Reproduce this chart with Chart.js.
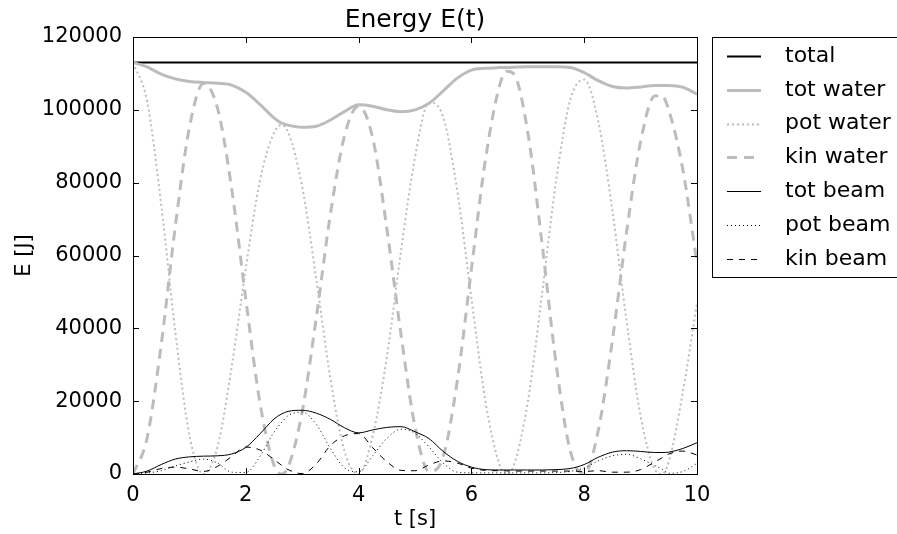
<!DOCTYPE html>
<html>
<head>
<meta charset="utf-8">
<script src="https://cdn.jsdelivr.net/npm/chart.js@4.4.1/dist/chart.umd.min.js"></script>
<style>
html, body { margin: 0; padding: 0; background: #fff; }
canvas { display: block; }
</style>
</head>
<body>
<canvas id="energyChart" width="897" height="534"></canvas>
<script>
// time samples [s]
const times = [0, 0.25, 0.5, 0.75, 1, 1.25, 1.5, 1.75, 2, 2.25, 2.5, 2.625, 2.75, 3, 3.25, 3.5, 3.75, 4, 4.25, 4.5, 4.75, 5, 5.25, 5.5, 5.75, 6, 6.25, 6.5, 6.625, 6.75, 7, 7.25, 7.5, 7.75, 8, 8.25, 8.5, 8.75, 9, 9.25, 9.375, 9.5, 9.75, 10];

// energies [J]
const total = [113000, 113000, 113000, 113000, 113000, 113000, 113000, 113000, 113000, 113000, 113000, 113000, 113000, 113000, 113000, 113000, 113000, 113000, 113000, 113000, 113000, 113000, 113000, 113000, 113000, 113000, 113000, 113000, 113000, 113000, 113000, 113000, 113000, 113000, 113000, 113000, 113000, 113000, 113000, 113000, 113000, 113000, 113000, 113000];
const totWater = [113000, 111800, 109800, 108500, 107800, 107500, 107300, 106800, 104800, 101500, 97800, 96400, 95800, 95200, 95500, 97200, 99500, 101400, 101000, 100000, 99500, 100000, 101800, 105200, 108700, 110900, 111400, 111600, 111650, 111700, 111800, 111800, 111800, 111600, 110200, 108000, 106400, 106000, 106300, 106700, 106700, 106700, 106200, 104300];
const potWater = [113000, 102300, 74000, 39000, 10700, 0, 7600, 29500, 56500, 80500, 93700, 95800, 93900, 78900, 53500, 26200, 6300, 0, 10500, 32000, 61000, 87000, 102000, 98000, 77700, 48300, 19900, 2500, 0, 2200, 19800, 49100, 80300, 102600, 108300, 96800, 72300, 42200, 15900, 1300, 0, 3400, 22500, 47000];
const kinWater = [0, 9900, 35500, 68000, 95200, 107200, 100400, 78300, 48000, 19600, 2400, 0, 1900, 17100, 43000, 71300, 92900, 101000, 92300, 67500, 38500, 13000, 700, 4800, 25600, 56200, 86500, 106700, 110600, 109900, 93800, 63600, 30500, 6500, 100, 12000, 36700, 66300, 91300, 103800, 103900, 99900, 83500, 57900];
const totBeam = [0, 800, 2600, 4100, 4700, 4900, 5000, 5500, 7300, 11000, 15100, 16400, 17200, 17500, 16700, 15000, 12700, 11300, 12100, 12800, 13000, 11600, 9700, 6200, 3500, 1900, 1200, 1100, 1100, 1100, 1100, 1100, 1200, 1500, 2600, 4600, 6000, 6400, 6200, 5900, 5900, 6000, 7000, 8600];
const potBeam = [0, 300, 900, 2200, 3300, 4100, 3000, 500, 400, 4800, 11500, 14000, 16000, 17000, 13600, 7000, 1700, 600, 5000, 9800, 12300, 11200, 7400, 3000, 500, 300, 300, 300, 300, 300, 300, 300, 400, 700, 1700, 3600, 5000, 5400, 4200, 2300, 1400, 200, 700, 2900];
const kinBeam = [0, 500, 1500, 1900, 1400, 700, 2100, 4800, 7400, 6600, 4000, 2500, 1200, 100, 2800, 7800, 10500, 11100, 7200, 3400, 1000, 900, 2500, 3600, 3000, 1600, 1000, 900, 850, 800, 800, 800, 800, 800, 700, 900, 500, 500, 1200, 3300, 4400, 5500, 6300, 5200];

const xTicks = [0, 2, 4, 6, 8, 10];
const yTicks = [0, 20000, 40000, 60000, 80000, 100000, 120000];

const GRAY = '#bcbcbc';
const FONT = '"DejaVu Sans", sans-serif';

const pts = arr => arr.map((v, i) => ({ x: times[i], y: v }));

const series = [
  { label: 'total',     data: total,    color: '#000', width: 2, dash: [] },
  { label: 'tot water', data: totWater, color: GRAY,   width: 3, dash: [] },
  { label: 'pot water', data: potWater, color: GRAY,   width: 2, dash: [2, 3] },
  { label: 'kin water', data: kinWater, color: GRAY,   width: 3, dash: [10, 7] },
  { label: 'tot beam',  data: totBeam,  color: '#000', width: 1, dash: [] },
  { label: 'pot beam',  data: potBeam,  color: '#000', width: 1, dash: [1, 3] },
  { label: 'kin beam',  data: kinBeam,  color: '#000', width: 1, dash: [6, 6] }
];

const frameAndLegend = {
  id: 'frameAndLegend',
  afterDatasetsDraw(chart) {
    const { ctx, chartArea: a, scales } = chart;
    ctx.save();
    ctx.strokeStyle = '#000';
    ctx.lineWidth = 1;
    ctx.setLineDash([]);
    ctx.strokeRect(a.left + 0.5, a.top + 0.5, a.right - a.left, a.bottom - a.top);

    // ticks point inward, on all four sides
    ctx.beginPath();
    xTicks.forEach(v => {
      const px = Math.round(scales.x.getPixelForValue(v)) + 0.5;
      ctx.moveTo(px, a.bottom); ctx.lineTo(px, a.bottom - 6);
      ctx.moveTo(px, a.top); ctx.lineTo(px, a.top + 6);
    });
    yTicks.forEach(v => {
      const py = Math.round(scales.y.getPixelForValue(v)) + 0.5;
      ctx.moveTo(a.left, py); ctx.lineTo(a.left + 6, py);
      ctx.moveTo(a.right, py); ctx.lineTo(a.right - 6, py);
    });
    ctx.stroke();

    ctx.fillStyle = '#000';
    ctx.font = '25px ' + FONT;
    ctx.textAlign = 'center';
    ctx.textBaseline = 'middle';
    ctx.fillText('Energy E(t)', (a.left + a.right) / 2, 20);

    // legend outside, to the right
    const bx = 712.5, by = 37.5;
    ctx.fillStyle = '#fff';
    ctx.fillRect(bx, by, 200, 240);
    ctx.strokeRect(bx, by, 200, 240);
    ctx.font = '22px ' + FONT;
    ctx.textAlign = 'left';
    chart.data.datasets.forEach((ds, i) => {
      const y = 56 + i * 33.8;
      ctx.strokeStyle = ds.borderColor;
      ctx.lineWidth = ds.borderWidth;
      ctx.setLineDash(ds.borderDash);
      ctx.beginPath();
      ctx.moveTo(727, Math.round(y) + 0.5);
      ctx.lineTo(761, Math.round(y) + 0.5);
      ctx.stroke();
      ctx.fillStyle = '#000';
      ctx.fillText(ds.label, 785, y);
    });
    ctx.restore();
  }
};

new Chart(document.getElementById('energyChart'), {
  type: 'line',
  data: {
    datasets: series.map((s, i) => ({
      label: s.label,
      data: pts(s.data),
      borderColor: s.color,
      borderWidth: s.width,
      borderDash: s.dash,
      pointRadius: 0,
      fill: false,
      cubicInterpolationMode: 'monotone',
      order: series.length - i
    }))
  },
  options: {
    responsive: false,
    animation: false,
    layout: { padding: { left: 0, right: 200, top: 37, bottom: 0 } },
    plugins: {
      legend: { display: false },
      title: { display: false },
      tooltip: { enabled: false }
    },
    scales: {
      x: {
        type: 'linear',
        min: 0,
        max: 10,
        afterFit: s => { s.height = 60; },
        afterBuildTicks: s => { s.ticks = xTicks.map(v => ({ value: v })); },
        grid: { display: false },
        border: { display: false },
        ticks: { color: '#000', padding: 1, maxRotation: 0, font: { family: FONT, size: 21 }, callback: v => String(v) },
        title: { display: true, text: 't [s]', color: '#000', font: { family: FONT, size: 21 }, padding: { top: 0, bottom: 2 } }
      },
      y: {
        min: 0,
        max: 120000,
        afterFit: s => { s.width = 133; },
        afterBuildTicks: s => { s.ticks = yTicks.map(v => ({ value: v })); },
        grid: { display: false },
        border: { display: false },
        ticks: { color: '#000', padding: 3, font: { family: FONT, size: 21 }, callback: v => String(v) },
        title: { display: true, text: 'E [J]', color: '#000', font: { family: FONT, size: 21 }, padding: { top: 12, bottom: 10 } }
      }
    }
  },
  plugins: [frameAndLegend]
});
</script>
</body>
</html>
